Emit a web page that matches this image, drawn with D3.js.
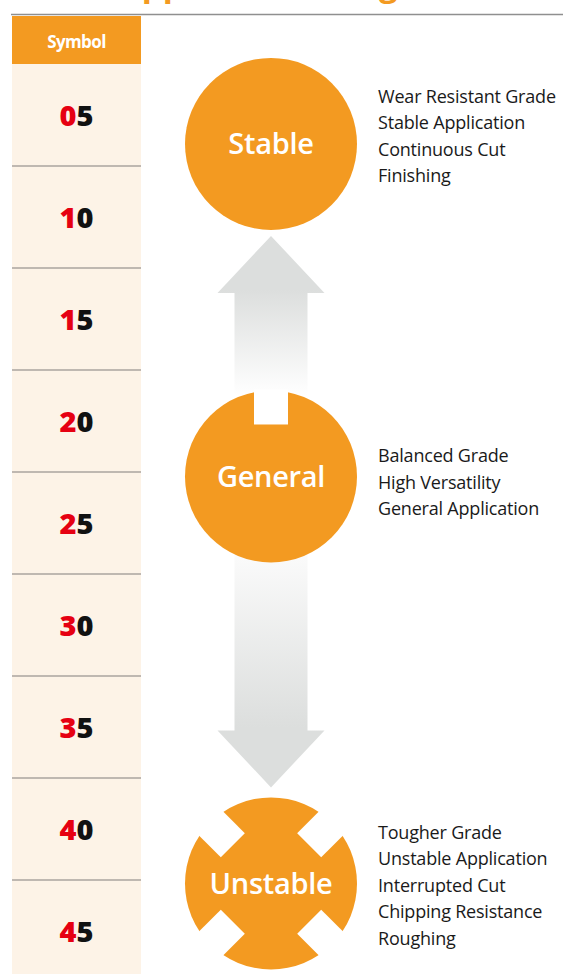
<!DOCTYPE html>
<html>
<head>
<meta charset="utf-8">
<script src="https://cdn.jsdelivr.net/npm/d3@7"></script>
<style>
  html, body { margin: 0; padding: 0; background: #fff; }
  svg { display: block; }
</style>
</head>
<body>
<svg id="chart" width="563" height="974"></svg>
<script>
// ---- data ----
const title = "Application Range";
const headerLabel = "Symbol";
const symbols = ["05", "10", "15", "20", "25", "30", "35", "40", "45"];
const levels = ["Stable", "General", "Unstable"];
// level centres, in row units (0 = top of first row)
const levelPos = [0.784, 4.044, 8.034];
const levelShape = ["circle", "notched", "cross"];
const descriptions = [
  ["Wear Resistant Grade", "Stable Application", "Continuous Cut", "Finishing"],
  ["Balanced Grade", "High Versatility", "General Application"],
  ["Tougher Grade", "Unstable Application", "Interrupted Cut", "Chipping Resistance", "Roughing"]
];
// first description line centre, in row units
const descPos = [0.314, 3.84, 7.53];

// ---- setup ----
const W = 563, H = 974;
const ORANGE = "#f39a21", CREAM = "#fdf3e7", RED = "#e60012";
const colLeft = 12, colRight = 141, headTop = 15, rowTop = 64, rowH = 102;
const svg = d3.select("#chart");

const yRow = d3.scaleBand().domain(symbols)
  .range([rowTop, rowTop + rowH * symbols.length]).paddingInner(0).paddingOuter(0);
const yUnit = d3.scaleLinear().domain([0, symbols.length])
  .range([rowTop, rowTop + rowH * symbols.length]);
const cx = 271, R = 86;

// title (only descenders show above the rule, as in the reference)
svg.append("text").attr("x", 119).attr("y", -4)
  .attr("font-family", "Open Sans").attr("font-weight", 700).attr("font-size", 33)
  .attr("fill", ORANGE).text(title);

// top rule
svg.append("line").attr("x1", 11).attr("x2", W).attr("y1", 14.5).attr("y2", 14.5)
  .attr("stroke", "#8f8f8f").attr("stroke-width", 1.5);

// symbol column
svg.append("rect").attr("x", colLeft).attr("y", rowTop).attr("width", colRight - colLeft)
  .attr("height", H - rowTop).attr("fill", CREAM);
svg.append("rect").attr("x", colLeft).attr("y", headTop + 1).attr("width", colRight - colLeft)
  .attr("height", rowTop - headTop - 1).attr("fill", ORANGE);
svg.append("text").attr("x", (colLeft + colRight) / 2).attr("y", 47.5)
  .attr("text-anchor", "middle").attr("font-family", "Open Sans")
  .attr("font-weight", 700).attr("font-size", 17).attr("letter-spacing", -0.6)
  .attr("fill", "#fff").text(headerLabel);

const rows = svg.append("g").selectAll("g").data(symbols).join("g");
rows.filter((d, i) => i > 0).append("line")
  .attr("x1", colLeft).attr("x2", colRight)
  .attr("y1", d => yRow(d)).attr("y2", d => yRow(d))
  .attr("stroke", "#aaa59f").attr("stroke-width", 1.5);
const sym = rows.append("text")
  .attr("x", (colLeft + colRight) / 2)
  .attr("y", d => yRow(d) + yRow.bandwidth() / 2 + 10.5)
  .attr("text-anchor", "middle").attr("font-family", "Open Sans")
  .attr("font-weight", 800).attr("font-size", 29);
sym.append("tspan").attr("fill", RED).text(d => d[0]);
sym.append("tspan").attr("fill", "#111").text(d => d.slice(1));

// gradients
const defs = svg.append("defs");
const yS = yUnit(levelPos[0]), yG = yUnit(levelPos[1]), yU = yUnit(levelPos[2]);
const gUp = defs.append("linearGradient").attr("id", "gUp")
  .attr("gradientUnits", "userSpaceOnUse").attr("x1", 0).attr("x2", 0)
  .attr("y1", yS + R + 60).attr("y2", yG - R + 5);
gUp.append("stop").attr("offset", 0).attr("stop-color", "#dcdedd");
gUp.append("stop").attr("offset", 1).attr("stop-color", "#ffffff");
const gDn = defs.append("linearGradient").attr("id", "gDn")
  .attr("gradientUnits", "userSpaceOnUse").attr("x1", 0).attr("x2", 0)
  .attr("y1", yG + R - 10).attr("y2", yU - R - 70);
gDn.append("stop").attr("offset", 0).attr("stop-color", "#fbfbfb");
gDn.append("stop").attr("offset", 1).attr("stop-color", "#dcdedd");

// arrows
const shaftHalf = 36.5, headHalf = 53.5, headLen = 57;
const upTip = yS + R + 6, upBase = yG - R;
svg.append("path").attr("fill", "url(#gUp)").attr("d", d3.line()([
  [cx, upTip], [cx + headHalf, upTip + headLen], [cx + shaftHalf, upTip + headLen],
  [cx + shaftHalf, upBase + 10], [cx - shaftHalf, upBase + 10], [cx - shaftHalf, upTip + headLen],
  [cx - headHalf, upTip + headLen]]) + "Z");
const dnTop = yG + R - 10, dnTip = yU - R - 10;
svg.append("path").attr("fill", "url(#gDn)").attr("d", d3.line()([
  [cx - shaftHalf, dnTop], [cx + shaftHalf, dnTop], [cx + shaftHalf, dnTip - headLen],
  [cx + headHalf, dnTip - headLen], [cx, dnTip], [cx - headHalf, dnTip - headLen],
  [cx - shaftHalf, dnTip - headLen]]) + "Z");

// level shapes
const notchW = 34;
levels.forEach((lv, i) => {
  const cy = yUnit(levelPos[i]);
  const g = svg.append("g");
  if (levelShape[i] === "cross") {
    const mid = "cut" + i;
    const m = defs.append("mask").attr("id", mid);
    m.append("rect").attr("x", 0).attr("y", 0).attr("width", W).attr("height", H).attr("fill", "#fff");
    [45, 135, 225, 315].forEach(a => {
      m.append("rect").attr("x", 54).attr("y", -notchW / 2).attr("width", 60).attr("height", notchW)
        .attr("fill", "#000")
        .attr("transform", `translate(${cx},${cy}) rotate(${a})`);
    });
    g.append("circle").attr("cx", cx).attr("cy", cy).attr("r", R).attr("fill", ORANGE)
      .attr("mask", `url(#${mid})`);
  } else {
    g.append("circle").attr("cx", cx).attr("cy", cy).attr("r", R).attr("fill", ORANGE);
    if (levelShape[i] === "notched") {
      g.append("rect").attr("x", cx - notchW / 2).attr("y", cy - R - 1)
        .attr("width", notchW).attr("height", 35).attr("fill", "#fff");
    }
  }
  g.append("text").attr("x", cx).attr("y", cy + 10.5).attr("text-anchor", "middle")
    .attr("font-family", "Open Sans").attr("font-weight", 600).attr("font-size", 29)
    .attr("letter-spacing", -0.3).attr("fill", "#fff").text(lv);

  const t = svg.append("text").attr("font-family", "Open Sans").attr("font-size", 18)
    .attr("letter-spacing", -0.2).attr("fill", "#1a1a1a");
  descriptions[i].forEach((line, j) => {
    t.append("tspan").attr("x", 378).attr("y", yUnit(descPos[i]) + 6.5 + j * 26.6).text(line);
  });
});
</script>
</body>
</html>
